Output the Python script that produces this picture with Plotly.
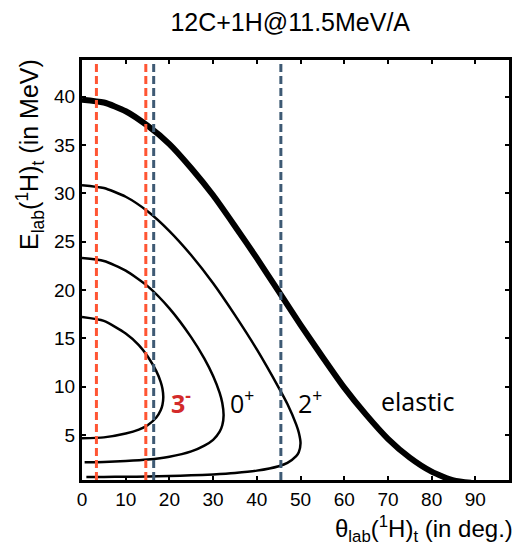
import plotly.graph_objects as go

# ---- data ----
elastic_theta = [0, 5, 10, 15, 20, 25, 30, 35, 40, 45, 50, 55, 60, 65, 70, 75, 80, 85, 89]
elastic_E = [39.7, 39.4, 38.5, 37.0, 35.1, 32.6, 29.8, 26.6, 23.3, 19.85, 16.4, 13.1, 9.9, 7.1, 4.6, 2.65, 1.2, 0.3, 0.05]

s3m_theta = [0, 5, 10, 13, 15, 17, 18, 18.4, 18.6, 18.4, 18, 17, 15, 13, 10, 5, 0]
s3m_E = [17.2, 16.8, 15.5, 14.3, 13.15, 11.6, 10.5, 9.8, 8.9, 8.1, 7.55, 6.8, 6.0, 5.55, 5.15, 4.75, 4.65]

s0p_theta = [0, 5, 10, 15, 20, 25, 28, 30, 31.5, 32.1, 32.4, 32.1, 31.5, 30, 28, 25, 20, 15, 10, 5, 0.6]
s0p_E = [23.3, 23.0, 22.0, 20.4, 18.1, 15.1, 12.9, 11.1, 9.35, 8.3, 7.05, 6.0, 5.35, 4.5, 3.9, 3.3, 2.75, 2.45, 2.3, 2.2, 2.17]

s2p_theta = [0, 5, 10, 15, 20, 25, 30, 35, 40, 45, 47, 49, 49.6, 50.0, 49.6, 49, 47, 45, 40, 35, 30, 25, 20, 15, 10, 5, 1.0]
s2p_E = [30.85, 30.55, 29.65, 28.15, 26.1, 23.6, 20.7, 17.4, 13.85, 9.9, 8.2, 6.1, 5.25, 4.15, 3.22, 2.82, 2.12, 1.77, 1.31, 1.07, 0.92, 0.82, 0.75, 0.70, 0.67, 0.66, 0.65]

orange_angles = [3.3, 14.6]
blue_angles = [16.4, 45.5]

labels = ["3<sup>-</sup>", "0<sup>+</sup>", "2<sup>+</sup>", "elastic"]
label_theta = [22.6, 36.6, 52.2, 76.8]
label_E = [8.5, 8.5, 8.5, 8.5]
label_colors = ["#D32A2A", "black", "black", "black"]

x_ticks = [0, 10, 20, 30, 40, 50, 60, 70, 80, 90]
y_ticks = [5, 10, 15, 20, 25, 30, 35, 40]

fig = go.Figure()
for th, e, w in [(s3m_theta, s3m_E, 2.5), (s0p_theta, s0p_E, 2.5),
                 (s2p_theta, s2p_E, 2.5), (elastic_theta, elastic_E, 6)]:
    fig.add_trace(go.Scatter(x=th, y=e, mode="lines",
                             line=dict(color="black", width=w, shape="spline", smoothing=0.6),
                             showlegend=False, hoverinfo="skip"))

shapes = []
for a in orange_angles:
    shapes.append(dict(type="line", xref="x", yref="paper", x0=a, x1=a, y0=0, y1=1,
                       line=dict(color="#FF5533", width=3, dash="8px,4px"), layer="above"))
for a in blue_angles:
    shapes.append(dict(type="line", xref="x", yref="paper", x0=a, x1=a, y0=0, y1=1,
                       line=dict(color="#3E5A74", width=3, dash="8px,4px"), layer="above"))

annotations = []
for t, x, y, c in zip(labels, label_theta, label_E, label_colors):
    txt = "<b>" + t + "</b>" if c != "black" else t
    annotations.append(dict(x=x, y=y, xref="x", yref="y", text=txt, showarrow=False,
                            font=dict(family="Open Sans", size=25, color=c),
                            xanchor="center", yanchor="middle"))

annotations.append(dict(xref="paper", yref="paper", x=1.014, y=-0.116,
                        text="θ<sub>lab</sub>(<sup>1</sup>H)<sub>t</sub> (in deg.)",
                        showarrow=False, xanchor="right", yanchor="middle",
                        font=dict(family="Liberation Sans", size=24, color="black")))
annotations.append(dict(xref="paper", yref="paper", x=-0.122, y=0.776,
                        text="E<sub>lab</sub>(<sup>1</sup>H)<sub>t</sub> (in MeV)",
                        showarrow=False, xanchor="center", yanchor="middle", textangle=-90,
                        font=dict(family="Liberation Sans", size=25, color="black")))

axis_common = dict(showline=True, linecolor="black", linewidth=3, mirror="ticks",
                   ticks="inside", ticklen=4, tickwidth=2, tickcolor="black",
                   showgrid=False, zeroline=False,
                   tickfont=dict(family="Liberation Sans", size=19, color="black"))

fig.update_layout(
    width=515, height=542,
    margin=dict(l=74, r=11, t=52, b=70),
    paper_bgcolor="white", plot_bgcolor="white",
    title=dict(text="12C+1H@11.5MeV/A", x=0.548, xanchor="center", y=0.974, yanchor="middle",
               font=dict(family="Liberation Sans", size=25, color="black")),
    xaxis=dict(range=[0, 97.7], tickvals=x_ticks, **axis_common),
    yaxis=dict(range=[0.34, 43.8], tickvals=y_ticks, **axis_common),
    shapes=shapes,
    annotations=annotations,
)

fig.write_html("out.html")
